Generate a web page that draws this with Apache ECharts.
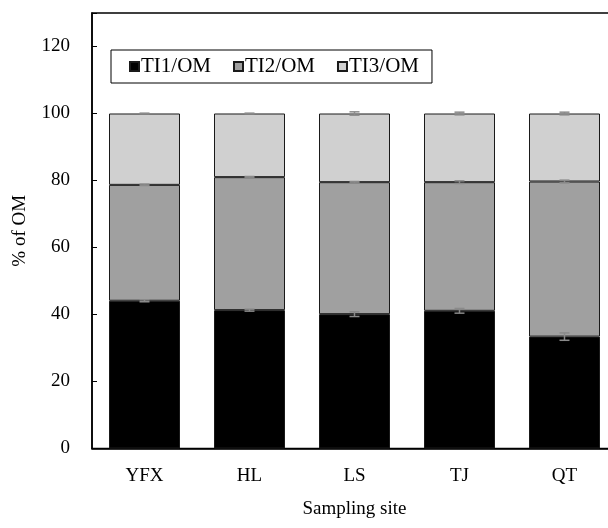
<!DOCTYPE html>
<html>
<head>
<meta charset="utf-8">
<script src="https://cdn.jsdelivr.net/npm/echarts@6/dist/echarts.min.js"></script>
<style>
  html, body { margin: 0; padding: 0; background: #fff; }
  #chart { width: 608px; height: 528px; }
</style>
</head>
<body>
<div id="chart"></div>
<script>
// Sampling sites and the three fractions (% of OM)
var sites = ['YFX', 'HL', 'LS', 'TJ', 'QT'];
var ti1 = [44.1, 41.3, 40.1, 41.1, 33.4];
var ti2 = [34.6, 39.7, 39.4, 38.4, 46.3];
var ti3 = [21.3, 19.0, 20.5, 20.5, 20.3];
// Standard errors for each fraction
var ti1Err = [0.3, 0.3, 0.7, 0.7, 1.1];
var ti2Err = [0.2, 0.2, 0.2, 0.4, 0.4];
var ti3Err = [0.1, 0.1, 0.5, 0.4, 0.4];
var yTicks = [0, 20, 40, 60, 80, 100, 120];

var FONT = 'Liberation Serif';

// Error bar points sit at the cumulative top of each stacked segment
var errData = [];
sites.forEach(function (s, i) {
  var c1 = ti1[i], c2 = c1 + ti2[i], c3 = c2 + ti3[i];
  errData.push([i, c1, ti1Err[i]]);
  errData.push([i, c2, ti2Err[i]]);
  errData.push([i, c3, ti3Err[i]]);
});

function renderErr(params, api) {
  var x = api.value(0), y = api.value(1), e = api.value(2);
  var hi = api.coord([x, y + e]);
  var lo = api.coord([x, y - e]);
  var half = 5;
  var style = { stroke: '#8a8a8a', lineWidth: 1.5 };
  return {
    type: 'group',
    children: [
      { type: 'line', shape: { x1: hi[0], y1: hi[1], x2: lo[0], y2: lo[1] }, style: style },
      { type: 'line', shape: { x1: hi[0] - half, y1: hi[1], x2: hi[0] + half, y2: hi[1] }, style: style },
      { type: 'line', shape: { x1: lo[0] - half, y1: lo[1], x2: lo[0] + half, y2: lo[1] }, style: style }
    ]
  };
}

var barBorder = { borderColor: '#1a1a1a', borderWidth: 1 };

var chart = echarts.init(document.getElementById('chart'));
chart.setOption({
  animation: false,
  backgroundColor: '#ffffff',
  textStyle: { fontFamily: FONT, color: '#000' },
  // plot box runs past the right edge of the canvas
  grid: {
    left: 92, width: 525, top: 13, bottom: 79.5,
    outerBoundsMode: 'none',
    show: true, borderColor: '#000', borderWidth: 1.5, backgroundColor: 'transparent'
  },
  legend: {
    left: 111, top: 50,
    padding: [6, 13, 6, 18],
    borderColor: '#000', borderWidth: 1,
    itemWidth: 9, itemHeight: 9, itemGap: 22,
    icon: 'rect',
    textStyle: { fontFamily: FONT, fontSize: 21, color: '#000', padding: [0, 0, 0, -3] },
    data: ['TI1/OM', 'TI2/OM', 'TI3/OM']
  },
  xAxis: {
    type: 'category',
    data: sites,
    name: 'Sampling site',
    nameLocation: 'middle',
    nameGap: 51,
    nameTextStyle: { fontFamily: FONT, fontSize: 19, color: '#000' },
    axisLine: { lineStyle: { color: '#000', width: 1.5 } },
    axisTick: { show: false },
    axisLabel: { fontFamily: FONT, fontSize: 19, color: '#000', margin: 18 }
  },
  yAxis: {
    type: 'value',
    min: 0, max: 130, interval: 20,
    name: '% of OM',
    nameLocation: 'middle',
    nameGap: 62,
    nameTextStyle: { fontFamily: FONT, fontSize: 19, color: '#000' },
    axisLine: { show: true, lineStyle: { color: '#000', width: 1.5 } },
    axisTick: { show: true, inside: true, length: 5, lineStyle: { color: '#000', width: 1 } },
    axisLabel: {
      fontFamily: FONT, fontSize: 19, color: '#000', margin: 22,
      formatter: function (v) { return yTicks.indexOf(v) >= 0 ? String(v) : ''; }
    },
    splitLine: { show: false }
  },
  series: [
    { name: 'TI1/OM', type: 'bar', stack: 'om', data: ti1, barWidth: 71,
      itemStyle: Object.assign({ color: '#000000' }, barBorder) },
    { name: 'TI2/OM', type: 'bar', stack: 'om', data: ti2, barWidth: 71,
      itemStyle: Object.assign({ color: '#a0a0a0' }, barBorder) },
    { name: 'TI3/OM', type: 'bar', stack: 'om', data: ti3, barWidth: 71,
      itemStyle: Object.assign({ color: '#d0d0d0' }, barBorder) },
    { type: 'custom', renderItem: renderErr, data: errData, z: 10,
      encode: { x: 0, y: 1 }, silent: true }
  ]
});
</script>
</body>
</html>
